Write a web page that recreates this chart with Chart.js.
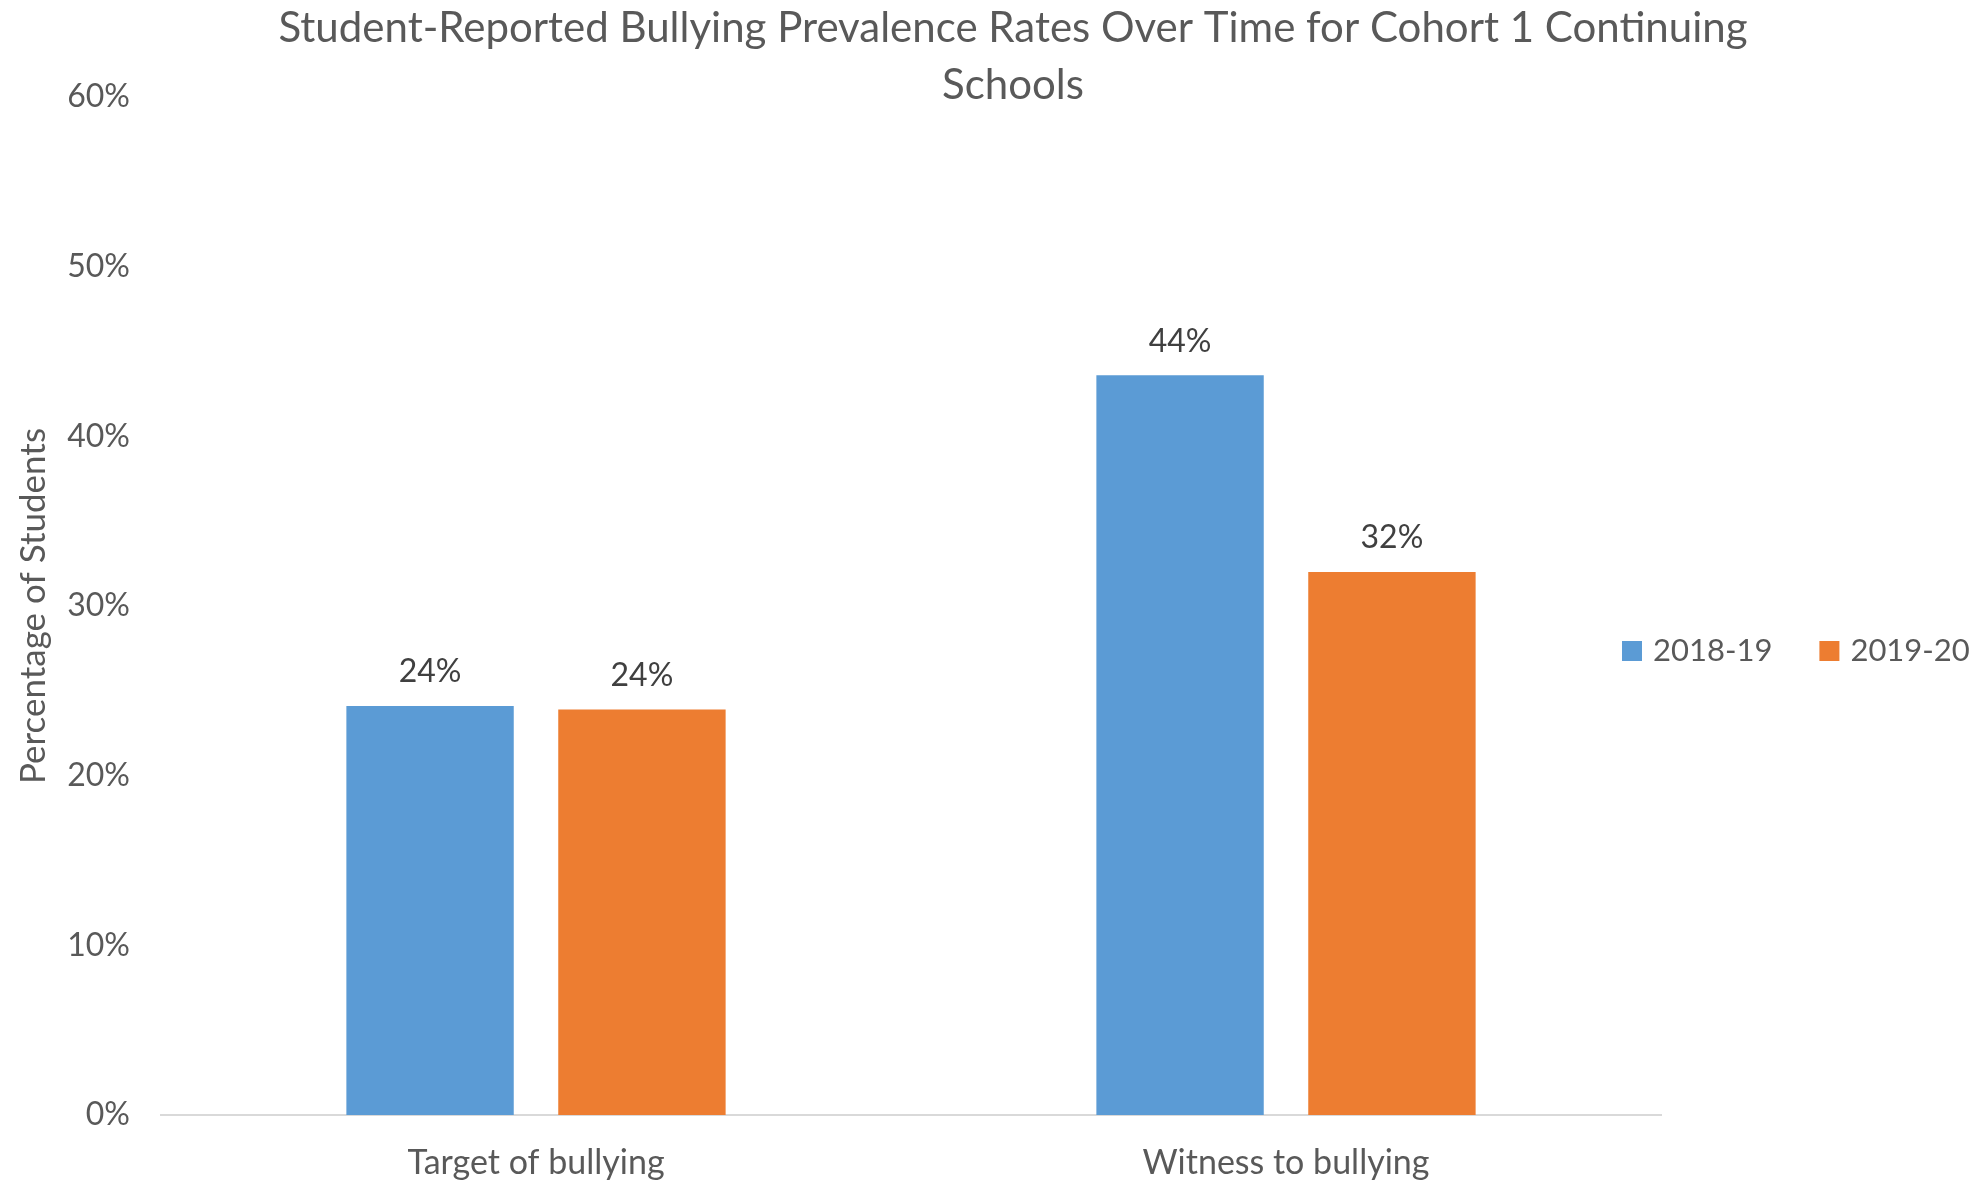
<!DOCTYPE html>
<html>
<head>
<meta charset="utf-8">
<script src="https://cdn.jsdelivr.net/npm/chart.js@4.4.1/dist/chart.umd.min.js"></script>
<style>
  html, body { margin: 0; padding: 0; background: #fff; overflow: hidden; }
  #grafica { display: block; }
</style>
</head>
<body>
<canvas id="grafica" width="2026" height="1180"></canvas>
<script>
const categories = ['Target of bullying', 'Witness to bullying'];
const seriesNames = ['2018-19', '2019-20'];
const year2018 = [24.1, 43.6];
const year2019 = [23.9, 32.0];
const yTicks = [0, 10, 20, 30, 40, 50, 60];

const gris = '#595959';
const fuente = 'Lato, "Open Sans", sans-serif';

// etiquetas de valor encima de cada barra
const etiquetas = {
  id: 'etiquetas',
  afterDatasetsDraw(chart) {
    const ctx = chart.ctx;
    ctx.save();
    ctx.font = '32px ' + fuente;
    ctx.fillStyle = '#404040';
    ctx.textAlign = 'center';
    ctx.textBaseline = 'middle';
    chart.data.datasets.forEach((ds, i) => {
      chart.getDatasetMeta(i).data.forEach((bar, j) => {
        ctx.fillText(Math.round(ds.data[j]) + '%', bar.x, bar.y - 34);
      });
    });
    ctx.restore();
  },
};

// leyenda a la derecha, dentro del area
const leyenda = {
  id: 'leyenda',
  afterDraw(chart) {
    const ctx = chart.ctx;
    ctx.save();
    ctx.font = '31px ' + fuente;
    ctx.textBaseline = 'middle';
    let x = 1622;
    const y = 651;
    chart.data.datasets.forEach((ds) => {
      ctx.fillStyle = ds.backgroundColor;
      ctx.fillRect(x, y - 10, 20, 20);
      ctx.fillStyle = gris;
      ctx.fillText(ds.label, x + 31, y);
      x += 31 + ctx.measureText(ds.label).width + 47;
    });
    ctx.restore();
  },
};

new Chart(document.getElementById('grafica').getContext('2d'), {
  type: 'bar',
  data: {
    labels: categories,
    datasets: [
      {
        label: seriesNames[0],
        data: year2018,
        backgroundColor: '#5B9BD5', // azul
        categoryPercentage: 0.565,
        barPercentage: 0.79,
      },
      {
        label: seriesNames[1],
        data: year2019,
        backgroundColor: '#ED7D31', // naranja
        categoryPercentage: 0.565,
        barPercentage: 0.79,
      },
    ],
  },
  options: {
    responsive: false,
    animation: false,
    layout: { padding: 0 },
    plugins: {
      legend: { display: false },
      tooltip: { enabled: false },
      title: {
        display: true,
        text: ['Student-Reported Bullying Prevalence Rates Over Time for Cohort 1 Continuing', 'Schools'],
        color: gris,
        font: { family: fuente, size: 42, weight: 'normal', lineHeight: 57 / 42 },
        padding: { top: 0, bottom: -17 },
      },
    },
    scales: {
      x: {
        grid: { display: false, drawTicks: false },
        border: { display: true, color: '#d9d9d9', width: 2 },
        ticks: {
          color: gris,
          padding: 28,
          font: { family: fuente, size: 34 },
        },
        afterFit: (s) => { s.height = 65; },
      },
      y: {
        min: 0,
        max: 60,
        afterBuildTicks: (s) => { s.ticks = yTicks.map((v) => ({ value: v })); },
        grid: { display: false, drawTicks: false },
        border: { display: false },
        ticks: {
          color: gris,
          padding: 31,
          font: { family: fuente, size: 32 },
          callback: (v) => v + '%',
        },
        title: {
          display: true,
          text: 'Percentage of Students',
          color: gris,
          font: { family: fuente, size: 35 },
          padding: { top: 13, bottom: 0 },
        },
        afterFit: (s) => { s.width = 161; },
      },
      // espacio reservado a la derecha (leyenda)
      derecha: {
        type: 'linear',
        position: 'right',
        display: true,
        grid: { display: false, drawTicks: false },
        border: { display: false },
        ticks: { display: false },
        afterFit: (s) => { s.width = 365; },
      },
    },
  },
  plugins: [etiquetas, leyenda],
});
</script>
</body>
</html>
